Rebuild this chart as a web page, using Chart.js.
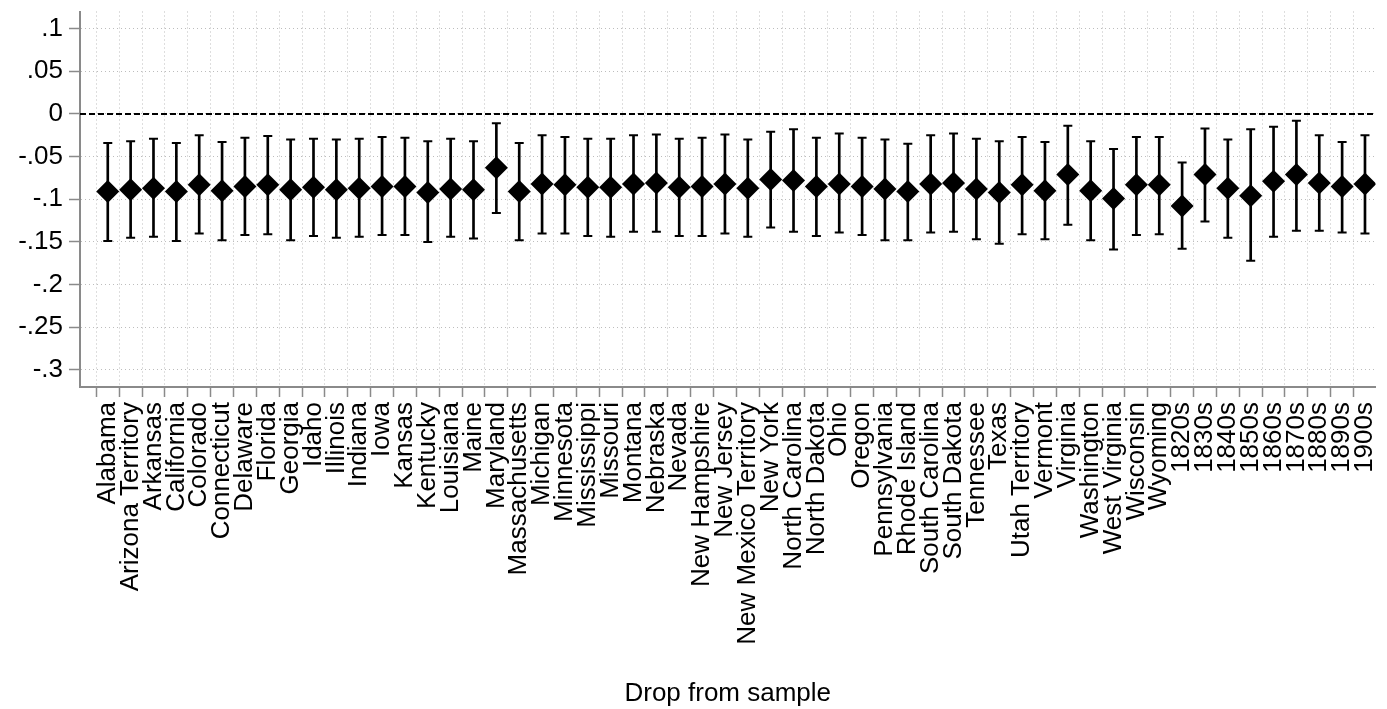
<!DOCTYPE html>
<html>
<head>
<meta charset="utf-8">
<script src="https://cdn.jsdelivr.net/npm/chart.js@4/dist/chart.umd.min.js"></script>
<style>
  html, body { margin: 0; padding: 0; background: #fff; }
  #wrap { width: 1387px; height: 709px; }
</style>
</head>
<body>
<div id="wrap"><canvas id="chart"></canvas></div>
<script>
// samples dropped one at a time
const labels = ['Alabama', 'Arizona Territory', 'Arkansas', 'California', 'Colorado', 'Connecticut',
  'Delaware', 'Florida', 'Georgia', 'Idaho', 'Illinois', 'Indiana', 'Iowa', 'Kansas', 'Kentucky',
  'Louisiana', 'Maine', 'Maryland', 'Massachusetts', 'Michigan', 'Minnesota', 'Mississippi',
  'Missouri', 'Montana', 'Nebraska', 'Nevada', 'New Hampshire', 'New Jersey', 'New Mexico Territory',
  'New York', 'North Carolina', 'North Dakota', 'Ohio', 'Oregon', 'Pennsylvania', 'Rhode Island',
  'South Carolina', 'South Dakota', 'Tennessee', 'Texas', 'Utah Territory', 'Vermont', 'Virginia',
  'Washington', 'West Virginia', 'Wisconsin', 'Wyoming', '1820s', '1830s', '1840s', '1850s',
  '1860s', '1870s', '1880s', '1890s', '1900s'];

// point estimates
const estimate = [-0.091, -0.089, -0.087, -0.091, -0.083, -0.090, -0.085, -0.083, -0.089, -0.086,
  -0.089, -0.087, -0.085, -0.085, -0.092, -0.088, -0.089, -0.063, -0.091, -0.082, -0.083, -0.086,
  -0.086, -0.082, -0.081, -0.086, -0.085, -0.082, -0.087, -0.077, -0.078, -0.085, -0.082, -0.085,
  -0.088, -0.091, -0.082, -0.081, -0.088, -0.092, -0.083, -0.090, -0.071, -0.090, -0.099, -0.083,
  -0.083, -0.108, -0.071, -0.087, -0.096, -0.079, -0.071, -0.081, -0.085, -0.082];

// 95% interval bounds
const upper = [-0.034, -0.032, -0.029, -0.034, -0.025, -0.033, -0.028, -0.026, -0.030, -0.029,
  -0.030, -0.029, -0.027, -0.028, -0.032, -0.029, -0.032, -0.011, -0.034, -0.025, -0.027, -0.029,
  -0.029, -0.025, -0.024, -0.029, -0.028, -0.024, -0.030, -0.021, -0.018, -0.028, -0.023, -0.028,
  -0.030, -0.035, -0.025, -0.023, -0.029, -0.032, -0.027, -0.033, -0.014, -0.032, -0.041, -0.027,
  -0.027, -0.057, -0.017, -0.030, -0.018, -0.015, -0.008, -0.025, -0.033, -0.025];

const lower = [-0.149, -0.145, -0.144, -0.149, -0.140, -0.148, -0.142, -0.141, -0.148, -0.143,
  -0.145, -0.144, -0.142, -0.142, -0.150, -0.144, -0.146, -0.116, -0.148, -0.140, -0.140, -0.143,
  -0.144, -0.138, -0.138, -0.143, -0.143, -0.140, -0.144, -0.133, -0.138, -0.143, -0.139, -0.142,
  -0.148, -0.148, -0.139, -0.138, -0.147, -0.152, -0.141, -0.147, -0.130, -0.148, -0.159, -0.142,
  -0.141, -0.158, -0.126, -0.145, -0.172, -0.144, -0.137, -0.137, -0.139, -0.140];

const yTicks = [0.1, 0.05, 0, -0.05, -0.1, -0.15, -0.2, -0.25, -0.3];

const xMin = -1.215, xMax = 55.46;
const FONT = "'Liberation Sans', Arial, Helvetica, sans-serif";

function fmt(v) {
  if (v === 0) return '0';
  return String(+v.toFixed(2)).replace('0.', '.');
}

const pts = estimate.map((v, i) => ({x: i, y: v}));
const bars = labels.map((_, i) => ({x: i, y: [lower[i], upper[i]]}));
const caps = [];
labels.forEach((_, i) => {
  caps.push({x: i, y: lower[i]});
  caps.push({x: i, y: upper[i]});
});

const ctx = document.getElementById('chart').getContext('2d');
new Chart(ctx, {
  type: 'scatter',
  data: {
    datasets: [
      {
        type: 'scatter',
        data: pts,
        pointStyle: 'rectRot',
        pointRadius: 11.5,
        pointBackgroundColor: '#000',
        pointBorderColor: '#000',
        pointBorderWidth: 0,
        order: 0
      },
      {
        type: 'scatter',
        data: caps,
        pointStyle: 'line',
        pointRadius: 4.5,
        pointBorderColor: '#000',
        pointBorderWidth: 2,
        order: 1
      },
      {
        type: 'bar',
        data: bars,
        backgroundColor: '#000',
        borderWidth: 0,
        barThickness: 2,
        borderSkipped: false,
        order: 2
      },
      {
        // reference line at zero
        type: 'line',
        data: [{x: xMin, y: 0}, {x: xMax, y: 0}],
        borderColor: '#000',
        borderWidth: 2,
        borderDash: [6, 3],
        pointRadius: 0,
        order: 3
      }
    ]
  },
  options: {
    responsive: true,
    maintainAspectRatio: false,
    animation: false,
    layout: { padding: { top: 11, right: 1, bottom: 0, left: 0 } },
    plugins: { legend: { display: false }, tooltip: { enabled: false } },
    scales: {
      x: {
        type: 'linear',
        min: xMin,
        max: xMax,
        offset: false,
        afterBuildTicks: axis => { axis.ticks = labels.map((_, i) => ({value: i})); },
        afterFit: axis => { axis.height = 322; axis.paddingLeft = 0; axis.paddingRight = 0; },
        ticks: {
          autoSkip: false,
          minRotation: 90,
          maxRotation: 90,
          padding: 5,
          color: '#000',
          font: { family: FONT, size: 26 },
          callback: v => labels[v]
        },
        grid: {
          color: '#bdbdbd',
          lineWidth: 1,
          tickLength: 10,
          tickColor: '#8a8a8a',
          tickWidth: 1.5
        },
        border: { display: true, color: '#8a8a8a', width: 2, dash: [1, 3] },
        title: {
          display: true,
          text: 'Drop from sample',
          color: '#000',
          font: { family: FONT, size: 26 },
          padding: { top: 0, bottom: 0 }
        }
      },
      y: {
        type: 'linear',
        min: -0.32,
        max: 0.12,
        afterBuildTicks: axis => { axis.ticks = yTicks.map(v => ({value: v})); },
        afterFit: axis => { axis.width = 80; axis.paddingTop = 0; axis.paddingBottom = 0; },
        ticks: {
          padding: 6,
          color: '#000',
          font: { family: FONT, size: 26 },
          callback: v => fmt(v)
        },
        grid: {
          color: '#bdbdbd',
          lineWidth: 1,
          tickLength: 11,
          tickColor: '#8a8a8a',
          tickWidth: 1.5
        },
        border: { display: true, color: '#8a8a8a', width: 2, dash: [1, 3] }
      }
    }
  }
});
</script>
</body>
</html>
